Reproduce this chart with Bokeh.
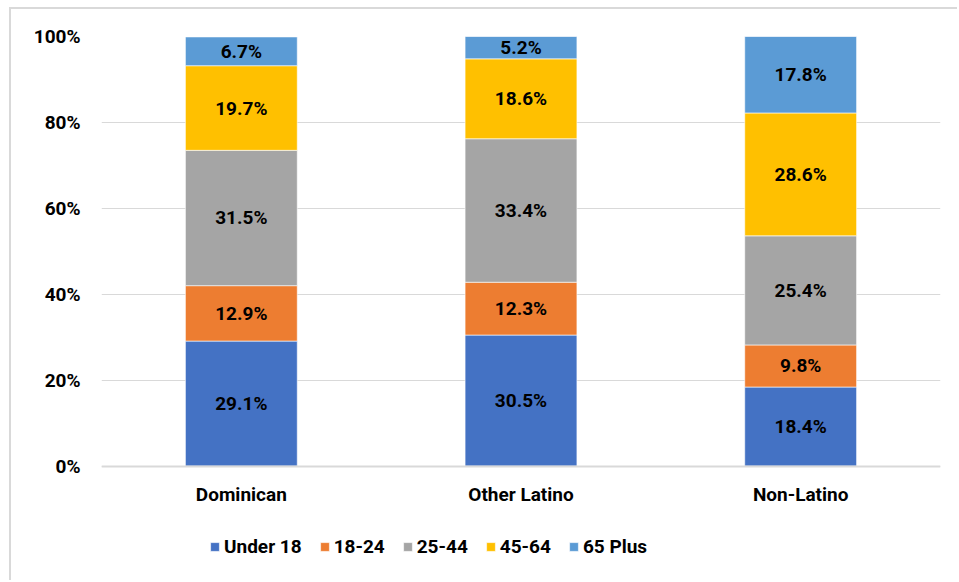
from bokeh.plotting import figure
from bokeh.models import FactorRange, Range1d, FixedTicker, PrintfTickFormatter, Legend, LegendItem, ColumnDataSource
from bokeh.core.properties import value
from bokeh.embed import file_html
from bokeh.resources import INLINE

categories = ["Dominican", "Other Latino", "Non-Latino"]
groups = ["Under 18", "18-24", "25-44", "45-64", "65 Plus"]
under18 = [29.1, 30.5, 18.4]
age18_24 = [12.9, 12.3, 9.8]
age25_44 = [31.5, 33.4, 25.4]
age45_64 = [19.7, 18.6, 28.6]
age65plus = [6.7, 5.2, 17.8]
colors = ["#4472C4", "#ED7D31", "#A5A5A5", "#FFC000", "#5B9BD5"]
y_ticks = [0, 20, 40, 60, 80, 100]

series = [under18, age18_24, age25_44, age45_64, age65plus]
FONT = "Roboto"
STYLE = "bold"
FS = "19px"

p = figure(x_range=FactorRange(*categories, range_padding=0), y_range=Range1d(-27.1, 100),
           width=948, height=573, output_backend="svg", toolbar_location=None,
           min_border_left=90, min_border_right=19, min_border_top=27, min_border_bottom=0)
p.margin = (7, 0, 0, 9)
p.styles = {"border-left": "2px solid #d9d9d9", "border-top": "2px solid #d9d9d9"}
p.outline_line_color = None
p.xgrid.grid_line_color = None
p.ygrid.grid_line_color = "#D9D9D9"
p.ygrid.grid_line_width = 1.2
p.yaxis.ticker = FixedTicker(ticks=y_ticks)
p.yaxis.formatter = PrintfTickFormatter(format="%d%%")
p.yaxis.axis_line_color = None
p.yaxis.major_tick_line_color = None
p.yaxis.minor_tick_line_color = None
p.yaxis.major_label_standoff = 15
p.yaxis.major_label_text_font = FONT
p.yaxis.major_label_text_font_size = FS
p.yaxis.major_label_text_font_style = STYLE
p.yaxis.major_label_text_color = "#000000"
p.xaxis.fixed_location = 0
p.xaxis.axis_line_color = "#D9D9D9"
p.xaxis.axis_line_width = 2
p.xaxis.major_tick_line_color = None
p.xaxis.minor_tick_line_color = None
p.xaxis.major_label_standoff = 11
p.xaxis.major_label_text_font = FONT
p.xaxis.major_label_text_font_size = FS
p.xaxis.major_label_text_font_style = STYLE
p.xaxis.major_label_text_color = "#000000"

data = {"cat": categories}
for g, s in zip(groups, series):
    data[g] = s
src = ColumnDataSource(data)
renderers = p.vbar_stack(groups, x="cat", width=0.4, color=colors, source=src,
                         line_color="white", line_width=0.6)

# labels
bottoms = [0.0] * len(categories)
lx, ly, lt = [], [], []
for s in series:
    for i, v in enumerate(s):
        lx.append(categories[i])
        ly.append(bottoms[i] + v / 2)
        lt.append(f"{v:.1f}%")
        bottoms[i] += v
p.text(x=lx, y=ly, text=lt, text_align="center", text_baseline="middle",
       text_font=value(FONT), text_font_size=FS, text_font_style=STYLE, text_color="#000000")

legend = Legend(items=[LegendItem(label=g, renderers=[r]) for g, r in zip(groups, renderers)],
                orientation="horizontal", location=(108, 24), border_line_color=None,
                background_fill_alpha=0, label_text_font=FONT, label_text_font_size=FS,
                label_text_font_style=STYLE, label_text_color="#000000",
                glyph_width=11, glyph_height=11,
                label_standoff=4, spacing=17, padding=0, margin=0)
p.add_layout(legend, "center")

open("out.html", "w").write(file_html(p, INLINE))
